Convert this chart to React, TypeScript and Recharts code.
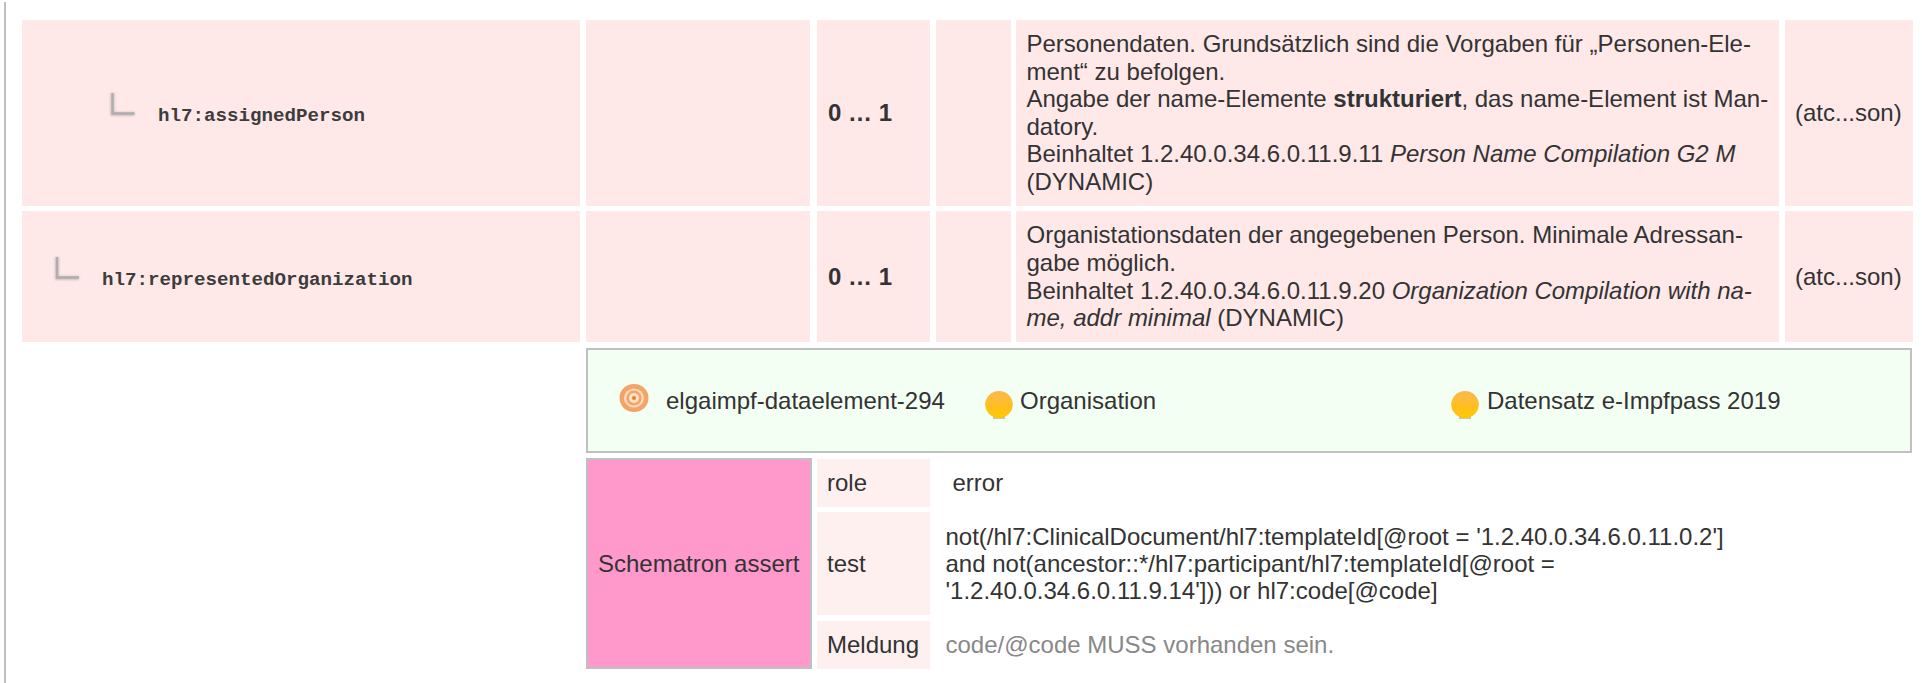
import React from "react";
import { ComposedChart, XAxis, YAxis, ReferenceArea, ReferenceDot } from "recharts";

const W = 1922;
const H = 683;
const SANS = "'Liberation Sans', Arial, sans-serif";
const MONO = "'Liberation Mono', 'Courier New', monospace";
const INK = "#333333";
const MONO_ADVANCE = 11.5;

type Run = { t: string; b?: boolean; i?: boolean };
type Line = { x: number; y: number; runs: Run[]; color?: string; mono?: boolean; size?: number };
type Cell = { x1: number; x2: number; y1: number; y2: number; fill: string; stroke?: string };

const rowFill = "#FFE8E8";
const subFill = "#FFF0F0";
const columns = [[22, 580], [586, 810], [817, 930], [936, 1011], [1016, 1779], [1785, 1913]];
const rows = [[20, 206], [211, 342]];

const tableCells: Cell[] = rows.flatMap(([y1, y2]) =>
  columns.map(([x1, x2]) => ({ x1, x2, y1, y2, fill: rowFill }))
);
const extraCells: Cell[] = [
  { x1: 4, x2: 6, y1: 2, y2: 683, fill: "#C0C0C0" },
  { x1: 587, x2: 1911, y1: 349, y2: 452, fill: "#F4FFF4", stroke: "#C0C0C0" },
  { x1: 587, x2: 811, y1: 459, y2: 668, fill: "#FF99CC", stroke: "#C0C0C0" },
  { x1: 817, x2: 930, y1: 459, y2: 507, fill: subFill },
  { x1: 817, x2: 930, y1: 512, y2: 615, fill: subFill },
  { x1: 817, x2: 930, y1: 621, y2: 669, fill: subFill },
];

const elementNames: Line[] = [
  { x: 158, y: 121, runs: [{ t: "hl7:assignedPerson", b: true }], mono: true },
  { x: 102, y: 285, runs: [{ t: "hl7:representedOrganization", b: true }], mono: true },
];
const cardinalities: Line[] = [
  { x: 828, y: 121, runs: [{ t: "0 … 1", b: true }] },
  { x: 828, y: 285, runs: [{ t: "0 … 1", b: true }] },
];
const descriptionRow1: Line[] = [
  { x: 1026.5, y: 52, runs: [{ t: "Personendaten. Grundsätzlich sind die Vorgaben für „Personen-Ele-" }] },
  { x: 1026.5, y: 80, runs: [{ t: "ment“ zu befolgen." }] },
  { x: 1026.5, y: 107, runs: [{ t: "Angabe der name-Elemente " }, { t: "strukturiert", b: true }, { t: ", das name-Element ist Man-" }] },
  { x: 1026.5, y: 135, runs: [{ t: "datory." }] },
  { x: 1026.5, y: 162, runs: [{ t: "Beinhaltet 1.2.40.0.34.6.0.11.9.11 " }, { t: "Person Name Compilation G2 M", i: true }] },
  { x: 1026.5, y: 190, runs: [{ t: "(DYNAMIC)" }] },
];
const descriptionRow2: Line[] = [
  { x: 1026.5, y: 243, runs: [{ t: "Organistationsdaten der angegebenen Person. Minimale Adressan-" }] },
  { x: 1026.5, y: 271, runs: [{ t: "gabe möglich." }] },
  { x: 1026.5, y: 299, runs: [{ t: "Beinhaltet 1.2.40.0.34.6.0.11.9.20 " }, { t: "Organization Compilation with na-", i: true }] },
  { x: 1026.5, y: 326, runs: [{ t: "me, addr minimal", i: true }, { t: " (DYNAMIC)" }] },
];
const labels: Line[] = [
  { x: 1795, y: 121, runs: [{ t: "(atc...son)" }] },
  { x: 1795, y: 285, runs: [{ t: "(atc...son)" }] },
  { x: 666, y: 409, runs: [{ t: "elgaimpf-dataelement-294" }] },
  { x: 1020, y: 409, runs: [{ t: "Organisation" }] },
  { x: 1487, y: 409, runs: [{ t: "Datensatz e-Impfpass 2019" }] },
  { x: 598, y: 572, runs: [{ t: "Schematron assert" }] },
  { x: 827, y: 491, runs: [{ t: "role" }] },
  { x: 952.5, y: 491, runs: [{ t: "error" }] },
  { x: 827, y: 572, runs: [{ t: "test" }] },
  { x: 945.5, y: 545, runs: [{ t: "not(/hl7:ClinicalDocument/hl7:templateId[@root = '1.2.40.0.34.6.0.11.0.2']" }] },
  { x: 945.5, y: 572, runs: [{ t: "and not(ancestor::*/hl7:participant/hl7:templateId[@root =" }] },
  { x: 945.5, y: 599, runs: [{ t: "'1.2.40.0.34.6.0.11.9.14'])) or hl7:code[@code]" }] },
  { x: 827, y: 653, runs: [{ t: "Meldung" }] },
  { x: 945.5, y: 653, runs: [{ t: "code/@code MUSS vorhanden sein." }], color: "#888888" },
];
const allLines: Line[] = [...elementNames, ...cardinalities, ...descriptionRow1, ...descriptionRow2, ...labels];

const cornerIcons = [{ x: 112.5, y: 93 }, { x: 57, y: 257 }];
const targetIcons = [{ x: 634, y: 398 }];
const bulbIcons = [{ x: 999, y: 405 }, { x: 1465, y: 405 }];

const textShape = (line: Line) => (p: any) => {
  const n = line.runs.reduce((s, r) => s + r.t.length, 0);
  const fit = line.mono ? { textLength: n * MONO_ADVANCE, lengthAdjust: "spacingAndGlyphs" as const } : {};
  return (
    <text
      x={p.cx}
      y={p.cy}
      fill={line.color ?? (line.mono ? "#3C3C3C" : INK)}
      fontFamily={line.mono ? MONO : SANS}
      fontSize={line.size ?? (line.mono ? 17.5 : 24)}
      style={{ whiteSpace: "pre" }}
      {...fit}
    >
      {line.runs.map((r, i) => (
        <tspan key={i} fontWeight={r.b ? 700 : 400} fontStyle={r.i ? "italic" : "normal"}>{r.t}</tspan>
      ))}
    </text>
  );
};

const cornerShape = (p: any) => (
  <g>
    <path d={`M${p.cx} ${p.cy}V${p.cy + 21}H${p.cx + 22}`} fill="none" stroke="#000" strokeOpacity={0.18} strokeWidth={4} filter="url(#soft)" />
    <path d={`M${p.cx} ${p.cy}V${p.cy + 20.5}H${p.cx + 22}`} fill="none" stroke="#AEAEAE" strokeWidth={2.4} />
  </g>
);

const targetShape = (p: any) => (
  <g filter="url(#tiny)">
    <ellipse cx={p.cx} cy={p.cy} rx={14.5} ry={14} fill="#F4A468" />
    <ellipse cx={p.cx} cy={p.cy} rx={10} ry={9.6} fill="#FBD9BC" />
    <ellipse cx={p.cx} cy={p.cy} rx={7.6} ry={7.4} fill="#F4A468" />
    <ellipse cx={p.cx} cy={p.cy} rx={5} ry={5} fill="#FBE3CF" />
    <circle cx={p.cx} cy={p.cy} r={2} fill="#F57A1F" />
  </g>
);

const bulbShape = (p: any) => (
  <g filter="url(#tiny)">
    <rect x={p.cx - 6} y={p.cy + 11} width={12} height={3} fill="#C8C8A8" />
    <ellipse cx={p.cx} cy={p.cy - 0.5} rx={13.8} ry={13.5} fill="url(#bulb)" />
  </g>
);

export default function App() {
  return (
    <div style={{ position: "absolute", left: 0, top: 0, width: W, height: H, background: "#fff" }}>
      <ComposedChart width={W} height={H} margin={{ top: 0, right: 0, bottom: 0, left: 0 }} data={[]}>
        <defs>
          <filter id="soft" x="-30%" y="-30%" width="160%" height="160%"><feGaussianBlur stdDeviation="1" /></filter>
          <filter id="tiny" x="-10%" y="-10%" width="120%" height="120%"><feGaussianBlur stdDeviation="0.5" /></filter>
          <linearGradient id="bulb" x1="0" y1="0" x2="0" y2="1">
            <stop offset="0" stopColor="#FBB850" />
            <stop offset="0.55" stopColor="#FFBE22" />
            <stop offset="1" stopColor="#FFC800" />
          </linearGradient>
        </defs>
        <XAxis type="number" dataKey="x" domain={[0, W]} hide allowDataOverflow />
        <YAxis type="number" dataKey="y" domain={[0, H]} reversed hide allowDataOverflow />
        {[...tableCells, ...extraCells].map((c, i) => (
          <ReferenceArea key={i} x1={c.x1} x2={c.x2} y1={c.y1} y2={c.y2} fill={c.fill} fillOpacity={1} stroke={c.stroke ?? "none"} strokeWidth={c.stroke ? 2 : 0} />
        ))}
        {cornerIcons.map((c, i) => <ReferenceDot key={"c" + i} x={c.x} y={c.y} r={0} shape={cornerShape} />)}
        {targetIcons.map((c, i) => <ReferenceDot key={"t" + i} x={c.x} y={c.y} r={0} shape={targetShape} />)}
        {bulbIcons.map((c, i) => <ReferenceDot key={"b" + i} x={c.x} y={c.y} r={0} shape={bulbShape} />)}
        {allLines.map((l, i) => <ReferenceDot key={"l" + i} x={l.x} y={l.y} r={0} shape={textShape(l)} />)}
      </ComposedChart>
    </div>
  );
}
